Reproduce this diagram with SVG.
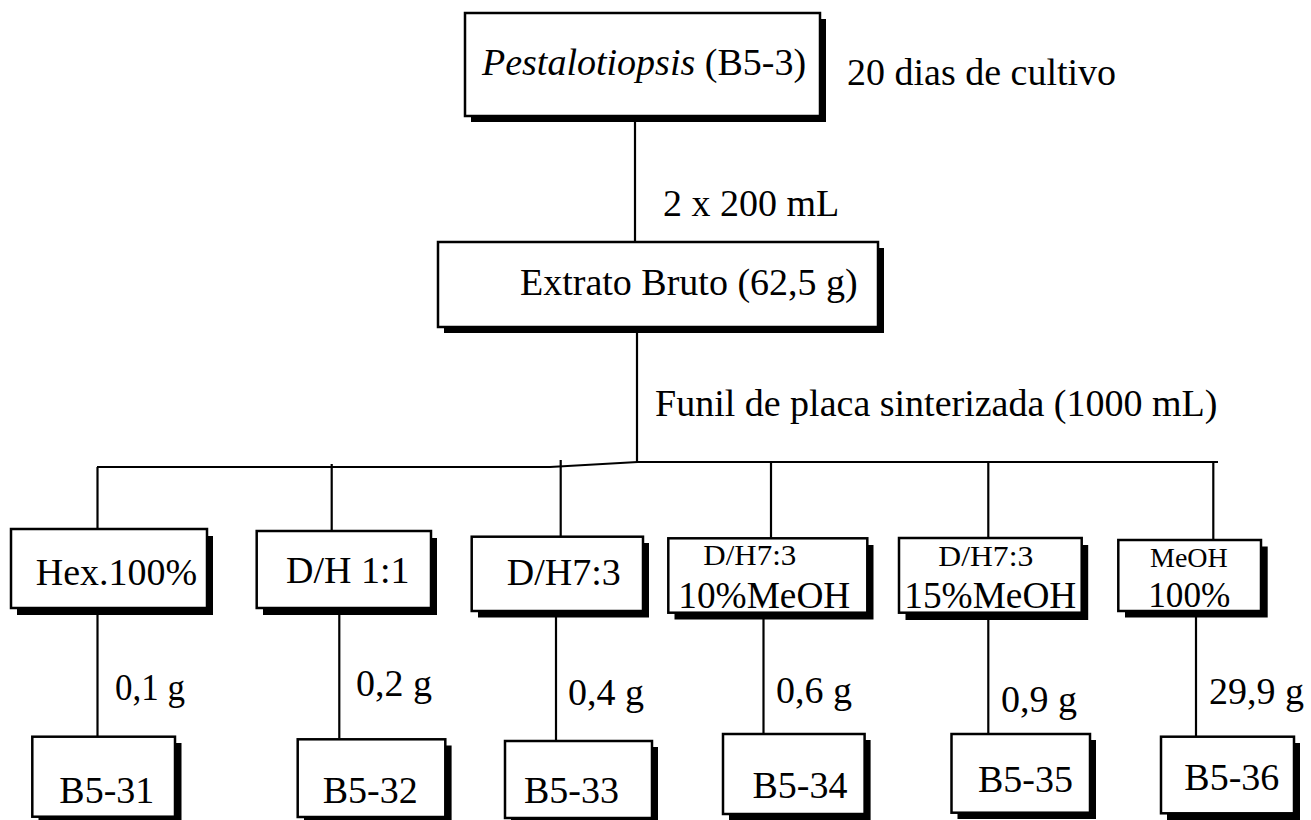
<svg xmlns="http://www.w3.org/2000/svg" width="1311" height="820" viewBox="0 0 1311 820">
<style>
.bg{fill:#fff}
.sh{fill:#000}
.box{fill:#fff;stroke:#000;stroke-width:2.5}
.t{font-family:"Liberation Serif","Times New Roman",serif;font-size:38px;fill:#000}
.s31{font-size:30px}
.s28{font-size:28px}
.s36{font-size:36px}
.conn line,.conn polyline{stroke:#000;stroke-width:2.2;fill:none}
</style>
<rect class="bg" x="0" y="0" width="1311" height="820"/>

<g id="connectors" class="conn">
  <line x1="635" y1="116" x2="635" y2="242"/>
  <line x1="637" y1="327" x2="637" y2="462"/>
  <polyline points="97,467 550,467 637.7,462 1218,462"/>
  <line x1="97.5" y1="467" x2="97.5" y2="529"/>
  <line x1="331.7" y1="464" x2="331.7" y2="531"/>
  <line x1="560.7" y1="460" x2="560.7" y2="537"/>
  <line x1="771" y1="462" x2="771" y2="538"/>
  <line x1="988.3" y1="462" x2="988.3" y2="538"/>
  <line x1="1213.3" y1="462" x2="1213.3" y2="540"/>
  <line x1="97.5" y1="608" x2="97.5" y2="740"/>
  <line x1="339.3" y1="608" x2="339.3" y2="738"/>
  <line x1="556" y1="611" x2="556" y2="741"/>
  <line x1="763.5" y1="613" x2="763.5" y2="742"/>
  <line x1="988.3" y1="613" x2="988.3" y2="745"/>
  <line x1="1196" y1="611" x2="1196" y2="742"/>
</g>

<g id="labels">
  <text class="t" x="847" y="85">20 dias de cultivo</text>
  <text class="t" x="663" y="216">2 x 200 mL</text>
  <text class="t" x="655" y="416">Funil de placa sinterizada (1000 mL)</text>
  <text class="t" x="115" y="700" textLength="70" lengthAdjust="spacingAndGlyphs">0,1 g</text>
  <text class="t" x="356" y="696">0,2 g</text>
  <text class="t" x="568" y="705">0,4 g</text>
  <text class="t" x="776" y="703">0,6 g</text>
  <text class="t" x="1001" y="712">0,9 g</text>
  <text class="t" x="1209" y="704">29,9 g</text>
</g>

<g id="node-pestalotiopsis">
  <rect class="sh" x="471" y="19" width="355" height="103"/>
  <rect class="box" x="465" y="13" width="355" height="103"/>
  <text class="t" x="482" y="75" font-size="37"><tspan font-style="italic">Pestalotiopsis</tspan> (B5-3)</text>
</g>

<g id="node-extrato">
  <rect class="sh" x="444" y="248" width="440" height="85"/>
  <rect class="box" x="438" y="242" width="440" height="85"/>
  <text class="t" x="520" y="295">Extrato Bruto (62,5 g)</text>
</g>

<g id="node-hex">
  <rect class="sh" x="17" y="536" width="196" height="79"/>
  <rect class="box" x="11" y="529" width="196" height="79"/>
  <text class="t" x="35.7" y="585">Hex.100%</text>
</g>

<g id="node-dh11">
  <rect class="sh" x="263" y="538" width="174" height="77"/>
  <rect class="box" x="256.7" y="531" width="174.3" height="77"/>
  <text class="t" x="286" y="583">D/H 1:1</text>
</g>

<g id="node-dh73">
  <rect class="sh" x="478" y="543" width="171" height="74.5"/>
  <rect class="box" x="471.7" y="536.7" width="171.3" height="74.3"/>
  <text class="t" x="506.7" y="585">D/H7:3</text>
</g>

<g id="node-dh73-10">
  <rect class="sh" x="674.5" y="545" width="199" height="74.5"/>
  <rect class="box" x="668.3" y="538.3" width="199" height="74.4"/>
  <text class="t s31" x="703.3" y="565" textLength="93" lengthAdjust="spacingAndGlyphs">D/H7:3</text>
  <text class="t" x="678.3" y="608" textLength="172" lengthAdjust="spacingAndGlyphs">10%MeOH</text>
</g>

<g id="node-dh73-15">
  <rect class="sh" x="905.5" y="545" width="182.7" height="75"/>
  <rect class="box" x="899" y="538" width="182.7" height="74.7"/>
  <text class="t s31" x="938.3" y="566" textLength="95" lengthAdjust="spacingAndGlyphs">D/H7:3</text>
  <text class="t" x="904.3" y="608" textLength="172" lengthAdjust="spacingAndGlyphs">15%MeOH</text>
</g>

<g id="node-meoh">
  <rect class="sh" x="1125" y="546.5" width="142.7" height="71"/>
  <rect class="box" x="1118.3" y="540" width="142.7" height="71"/>
  <text class="t s28" x="1150" y="567">MeOH</text>
  <text class="t s36" x="1148.3" y="607" textLength="82" lengthAdjust="spacingAndGlyphs">100%</text>
</g>

<g id="node-b531">
  <rect class="sh" x="38.5" y="743" width="143" height="80"/>
  <rect class="box" x="32.3" y="736.7" width="142.7" height="80"/>
  <text class="t" x="59.3" y="802.7">B5-31</text>
</g>

<g id="node-b532">
  <rect class="sh" x="304" y="745.5" width="147.6" height="78"/>
  <rect class="box" x="297.7" y="739.3" width="147.6" height="77.7"/>
  <text class="t" x="322.7" y="802.7">B5-32</text>
</g>

<g id="node-b533">
  <rect class="sh" x="511" y="747" width="147" height="77"/>
  <rect class="box" x="505" y="741" width="147" height="77"/>
  <text class="t" x="524" y="802.7">B5-33</text>
</g>

<g id="node-b534">
  <rect class="sh" x="729" y="740" width="141.6" height="80"/>
  <rect class="box" x="723" y="734" width="141.6" height="80"/>
  <text class="t" x="752.5" y="798.3">B5-34</text>
</g>

<g id="node-b535">
  <rect class="sh" x="957.5" y="740" width="138.5" height="79"/>
  <rect class="box" x="951.5" y="734" width="138.5" height="78.7"/>
  <text class="t" x="978" y="791.7">B5-35</text>
</g>

<g id="node-b536">
  <rect class="sh" x="1167" y="743" width="133" height="77"/>
  <rect class="box" x="1161" y="736.7" width="133" height="76.6"/>
  <text class="t" x="1184.3" y="790">B5-36</text>
</g>
</svg>
